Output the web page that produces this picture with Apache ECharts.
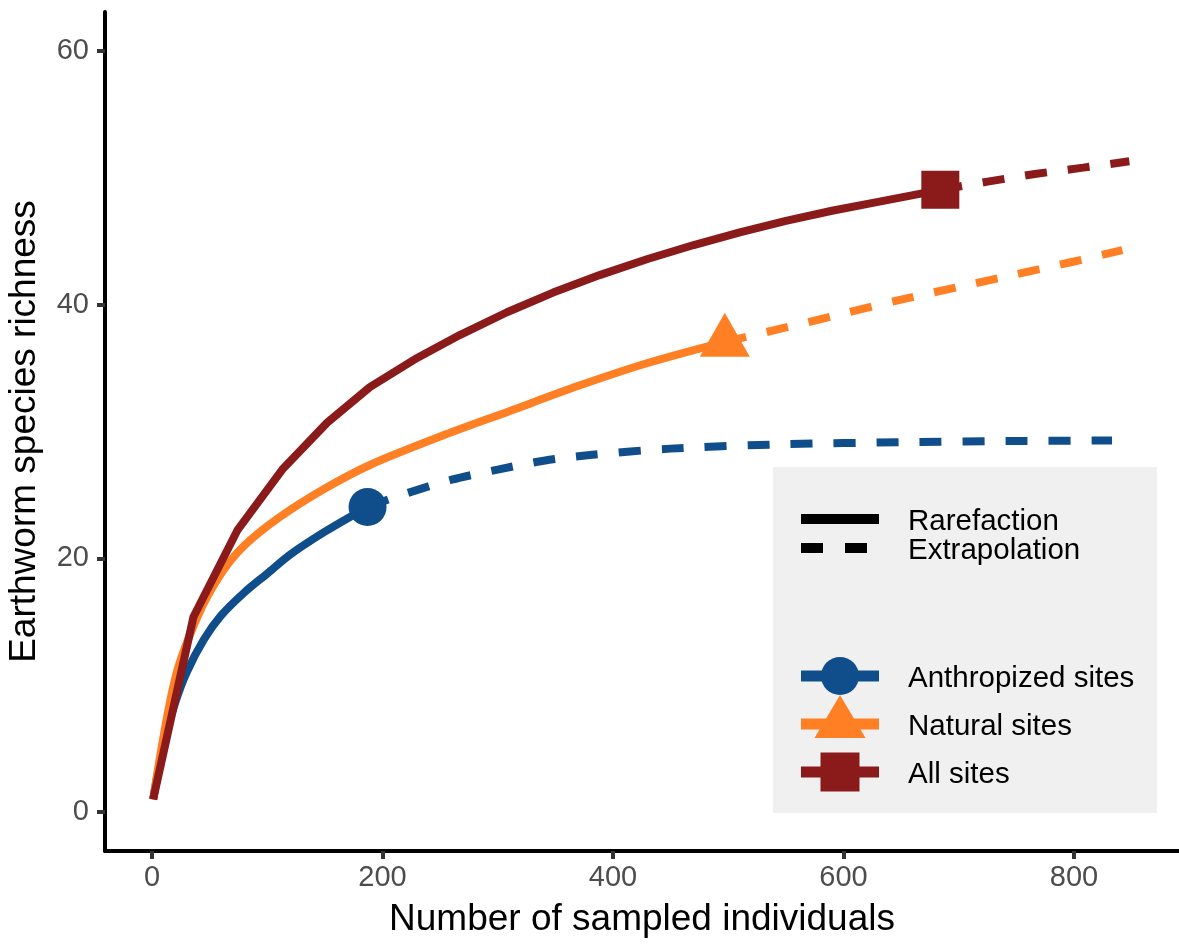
<!DOCTYPE html>
<html>
<head>
<meta charset="utf-8">
<script src="https://cdn.jsdelivr.net/npm/echarts@6/dist/echarts.min.js"></script>
<style>
html,body{margin:0;padding:0;background:#fff;}
#chart{width:1179px;height:947px;}
</style>
</head>
<body>
<div id="chart"></div>
<script>
// ---------- data ----------
var xTicks = [0, 200, 400, 600, 800];
var yTicks = [0, 20, 40, 60];

// Anthropized sites
var anthroRareN = [1, 10, 20, 30, 45, 60, 80, 100, 120, 150, 187];
var anthroRareS = [1, 5.4, 8.6, 11.0, 13.6, 15.5, 17.3, 18.8, 20.3, 22.1, 24.05];
var anthroExtN  = [187, 220, 260, 300, 340, 380, 450, 550, 650, 750, 833];
var anthroExtS  = [24.05, 25.1, 26.2, 27.0, 27.7, 28.15, 28.65, 29.0, 29.15, 29.25, 29.3];

// Natural sites
var naturalRareN = [1, 20, 40, 60, 80, 110, 150, 190, 250, 310, 370, 430, 497];
var naturalRareS = [1, 10.5, 15.5, 18.8, 21.0, 23.2, 25.5, 27.4, 29.6, 31.6, 33.6, 35.4, 37.07];
var naturalExtN  = [497, 550, 600, 650, 700, 750, 800, 842];
var naturalExtS  = [37.07, 38.2, 39.3, 40.4, 41.4, 42.4, 43.4, 44.3];

// All sites
var allRareN = [1, 36, 74, 113, 152, 189, 230, 267, 308, 348, 389, 430, 470, 510, 550, 590, 630, 684];
var allRareS = [1, 15.4, 22.2, 27.0, 30.7, 33.5, 35.8, 37.6, 39.4, 40.95, 42.35, 43.6, 44.7, 45.7, 46.6, 47.4, 48.1, 49.05];
var allExtN  = [684, 725, 766, 808, 848];
var allExtS  = [49.05, 49.7, 50.3, 50.8, 51.3];

var groupNames = ['Anthropized sites', 'Natural sites', 'All sites'];
var styleNames = ['Rarefaction', 'Extrapolation'];
// ----------------------------------------------------

var FONT = '"Liberation Sans", Arial, sans-serif';
var C_BLUE = '#104E8B', C_ORANGE = '#FF7F24', C_RED = '#8B1A1A';

function pairs(a, b) { return a.map(function (v, i) { return [v, b[i]]; }); }
function last(a, b) { return [[a[a.length - 1], b[b.length - 1]]]; }

var groups = [
  {name: groupNames[0], color: C_BLUE, rare: pairs(anthroRareN, anthroRareS), ext: pairs(anthroExtN, anthroExtS), obs: last(anthroRareN, anthroRareS), symbol: 'circle', size: 38, offset: [0, 0], smooth: 0.3},
  {name: groupNames[1], color: C_ORANGE, rare: pairs(naturalRareN, naturalRareS), ext: pairs(naturalExtN, naturalExtS), obs: last(naturalRareN, naturalRareS), symbol: 'triangle', size: [50, 44], offset: [0, -7], smooth: 0.3},
  {name: groupNames[2], color: C_RED, rare: pairs(allRareN, allRareS), ext: pairs(allExtN, allExtS), obs: last(allRareN, allRareS), symbol: 'rect', size: 38, offset: [0, 0], smooth: false}
];

var series = [];
groups.forEach(function (g, i) {
  series.push({type: 'line', name: g.name + ' ' + styleNames[0], data: g.rare, showSymbol: false, symbol: 'none', smooth: g.smooth,
    lineStyle: {color: g.color, width: 8, type: 'solid', cap: 'butt', join: 'round'}, z: 2 + i, silent: true, animation: false});
  series.push({type: 'line', name: g.name + ' ' + styleNames[1], data: g.ext, showSymbol: false, symbol: 'none', smooth: g.smooth,
    lineStyle: {color: g.color, width: 8, type: [22, 21], cap: 'butt'}, z: 2 + i, silent: true, animation: false});
});
groups.forEach(function (g) {
  series.push({type: 'scatter', name: g.name, data: g.obs, symbol: g.symbol, symbolSize: g.size, symbolOffset: g.offset,
    itemStyle: {color: g.color, opacity: 1}, z: 10, silent: true, animation: false});
});

// legend (drawn as graphics)
var LX1 = 801, LX2 = 879, TX = 908;
var legendY = {rare: 519, ext: 548, g: [676, 724, 772]};
var TXT_DY = 3;
var LFONT = '29.5px ' + FONT;
var graphics = [
  {type: 'rect', shape: {x: 773, y: 467, width: 384, height: 346}, style: {fill: '#F0F0F0'}, z: 50},
  {type: 'line', shape: {x1: LX1, y1: legendY.rare, x2: LX2, y2: legendY.rare}, style: {stroke: '#000', lineWidth: 10}, z: 51},
  {type: 'line', shape: {x1: LX1, y1: legendY.ext, x2: 867, y2: legendY.ext}, style: {stroke: '#000', lineWidth: 10, lineDash: [22, 22]}, z: 51},
  {type: 'text', x: TX, y: legendY.rare + TXT_DY, style: {text: styleNames[0], font: LFONT, fill: '#000', verticalAlign: 'middle'}, z: 52},
  {type: 'text', x: TX, y: legendY.ext + TXT_DY, style: {text: styleNames[1], font: LFONT, fill: '#000', verticalAlign: 'middle'}, z: 52}
];
groups.forEach(function (g, i) {
  var y = legendY.g[i];
  graphics.push({type: 'line', shape: {x1: LX1, y1: y, x2: LX2, y2: y}, style: {stroke: g.color, lineWidth: 11}, z: 51});
  var cx = (LX1 + LX2) / 2;
  if (g.symbol === 'circle') {
    graphics.push({type: 'circle', shape: {cx: cx, cy: y, r: 19}, style: {fill: g.color}, z: 52});
  } else if (g.symbol === 'triangle') {
    graphics.push({type: 'polygon', shape: {points: [[cx, y - 29], [cx - 25.5, y + 14], [cx + 25.5, y + 14]]}, style: {fill: g.color}, z: 52});
  } else {
    graphics.push({type: 'rect', shape: {x: cx - 19.5, y: y - 19.5, width: 39, height: 39}, style: {fill: g.color}, z: 52});
  }
  graphics.push({type: 'text', x: TX, y: y + TXT_DY, style: {text: g.name, font: LFONT, fill: '#000', verticalAlign: 'middle'}, z: 52});
});

var chart = echarts.init(document.getElementById('chart'), null, {renderer: 'canvas'});
chart.setOption({
  animation: false,
  backgroundColor: '#ffffff',
  grid: {left: 105, right: 0, top: 12, bottom: 96, containLabel: false, outerBoundsMode: 'none'},
  xAxis: {
    type: 'value', min: -40.8, max: 891.1,
    name: 'Number of sampled individuals', nameLocation: 'middle', nameGap: 50,
    nameTextStyle: {fontSize: 37, color: '#000', fontFamily: FONT},
    axisLine: {show: true, onZero: false, lineStyle: {color: '#000', width: 4}},
    axisTick: {show: true, customValues: xTicks, length: 8, lineStyle: {color: '#333', width: 4}},
    axisLabel: {customValues: xTicks, fontSize: 29, color: '#4D4D4D', fontFamily: FONT, margin: 12},
    splitLine: {show: false}
  },
  yAxis: {
    type: 'value', min: -3.07, max: 63.07,
    name: 'Earthworm species richness', nameLocation: 'middle', nameGap: 62, nameRotate: 90,
    nameTextStyle: {fontSize: 37, color: '#000', fontFamily: FONT},
    axisLine: {show: true, onZero: false, lineStyle: {color: '#000', width: 4}},
    axisTick: {show: true, customValues: yTicks, length: 8, lineStyle: {color: '#333', width: 4}},
    axisLabel: {customValues: yTicks, fontSize: 29, color: '#4D4D4D', fontFamily: FONT, margin: 16},
    splitLine: {show: false}
  },
  series: series,
  graphic: graphics
});
</script>
</body>
</html>
